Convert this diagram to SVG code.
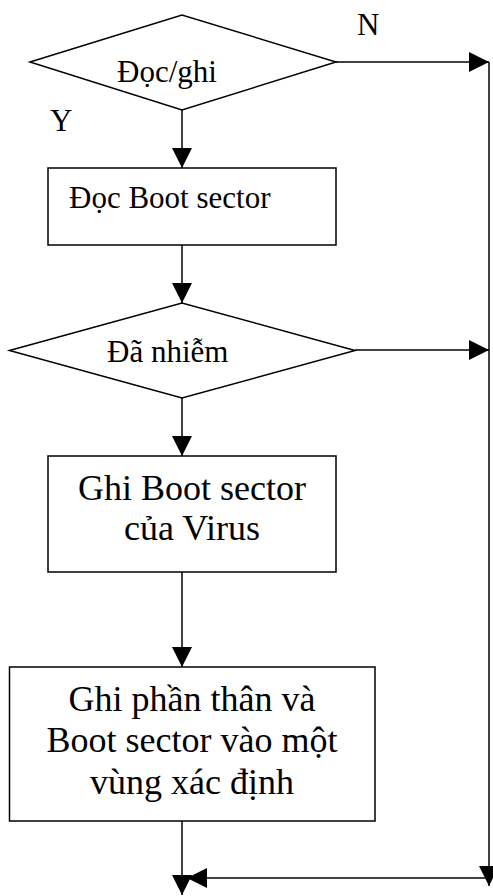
<svg xmlns="http://www.w3.org/2000/svg" width="493" height="896" viewBox="0 0 493 896">
  <style>
    .shape { fill: #ffffff; stroke: #000000; stroke-width: 1.5; }
    .line { fill: none; stroke: #000000; stroke-width: 1.5; }
    .t12 { font-family: "Liberation Serif", "Times New Roman", serif; font-size: 31px; fill: #000000; }
    .t14 { font-family: "Liberation Serif", "Times New Roman", serif; font-size: 36px; fill: #000000; text-anchor: middle; }
  </style>
  <defs>
    <marker id="arrow" markerUnits="userSpaceOnUse" markerWidth="20" markerHeight="20" viewBox="0 0 20 20" refX="20" refY="10" orient="auto">
      <path d="M0,0 L20,10 L0,20 z" fill="#000000"/>
    </marker>
  </defs>
  <rect width="493" height="896" fill="#ffffff"/>

  <!-- connectors -->
  <g id="connectors">
    <line class="line" x1="182" y1="110" x2="182" y2="168" marker-end="url(#arrow)"/>
    <line class="line" x1="336" y1="62" x2="489" y2="62" marker-end="url(#arrow)"/>
    <line class="line" x1="182" y1="245" x2="182" y2="303" marker-end="url(#arrow)"/>
    <line class="line" x1="355" y1="350" x2="489" y2="350" marker-end="url(#arrow)"/>
    <line class="line" x1="182" y1="398" x2="182" y2="456" marker-end="url(#arrow)"/>
    <line class="line" x1="182" y1="572" x2="182" y2="667" marker-end="url(#arrow)"/>
    <line class="line" x1="182" y1="821" x2="182" y2="895" marker-end="url(#arrow)"/>
    <line class="line" x1="489" y1="62" x2="489" y2="886" marker-end="url(#arrow)"/>
    <line class="line" x1="489" y1="878" x2="187" y2="878" marker-end="url(#arrow)"/>
    <text class="t12" x="357" y="35">N</text>
    <text class="t12" x="50" y="131">Y</text>
  </g>

  <!-- decision: read/write -->
  <g id="doc-ghi">
    <polygon class="shape" points="30,62 182,15 336,62 182,110"/>
    <text class="t12" x="117" y="82">Đọc/ghi</text>
  </g>

  <!-- read boot sector -->
  <g id="doc-boot">
    <rect class="shape" x="48" y="168" width="288" height="77"/>
    <text class="t12" x="69" y="207.5">Đọc Boot sector</text>
  </g>

  <!-- decision: already infected -->
  <g id="da-nhiem">
    <polygon class="shape" points="9.5,350.5 182,303 355,350.5 182,398"/>
    <text class="t12" x="107" y="361.5">Đã nhiễm</text>
  </g>

  <!-- write virus boot sector -->
  <g id="ghi-boot">
    <rect class="shape" x="48" y="456" width="288" height="116"/>
    <text class="t14" x="192" y="500">Ghi Boot sector</text>
    <text class="t14" x="192" y="540">của Virus</text>
  </g>

  <!-- write body and boot sector to a fixed area -->
  <g id="ghi-than">
    <rect class="shape" x="9.5" y="667" width="365.5" height="154"/>
    <text class="t14" x="192" y="710.5">Ghi phần thân và</text>
    <text class="t14" x="192" y="752">Boot sector vào một</text>
    <text class="t14" x="192" y="793.5">vùng xác định</text>
  </g>
</svg>
